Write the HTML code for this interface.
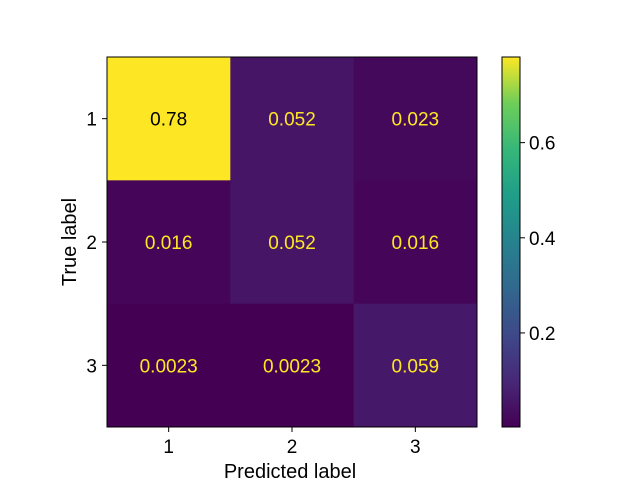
<!DOCTYPE html>
<html><head><meta charset="utf-8"><style>
body{margin:0;background:#fff;}
svg text{font-family:"Liberation Sans",sans-serif;}
</style></head><body>
<svg id="chart" width="640" height="480" xmlns="http://www.w3.org/2000/svg">
<defs>
<linearGradient id="vir" x1="0" y1="1" x2="0" y2="0">
<stop offset="0" stop-color="#440154"/><stop offset="0.125" stop-color="#482878"/>
<stop offset="0.25" stop-color="#3e4989"/><stop offset="0.375" stop-color="#31688e"/>
<stop offset="0.5" stop-color="#26828e"/><stop offset="0.625" stop-color="#1f9e89"/>
<stop offset="0.75" stop-color="#35b779"/><stop offset="0.875" stop-color="#6ece58"/>
<stop offset="1" stop-color="#fde725"/>
</linearGradient>
</defs>
<g id="cells"></g>
<rect x="107" y="57" width="370" height="370" fill="none" stroke="#000" stroke-width="1"/>
<g id="axes"></g>
<text x="290" y="478" text-anchor="middle" font-size="20">Predicted label</text>
<text transform="translate(76,242) rotate(-90)" text-anchor="middle" font-size="20">True label</text>
<rect x="502" y="57" width="18" height="370" fill="url(#vir)" stroke="#000" stroke-width="1"/>
<g id="cbticks"></g>
</svg>
<script>
const labels = ["1","2","3"];
const values = [[0.78,0.052,0.023],[0.016,0.052,0.016],[0.0023,0.0023,0.059]];
const valueText = [["0.78","0.052","0.023"],["0.016","0.052","0.016"],["0.0023","0.0023","0.059"]];
const cbTicks = [0.2,0.4,0.6];
const cbTickText = ["0.2","0.4","0.6"];

const NS="http://www.w3.org/2000/svg";
const x0=107,y0=57,size=370,n=labels.length,cs=size/n;
const flat=values.flat();const vmin=Math.min(...flat),vmax=Math.max(...flat);
const stops=["#440154","#482878","#3e4989","#31688e","#26828e","#1f9e89","#35b779","#6ece58","#fde725"];
function hex(h){return [1,3,5].map(i=>parseInt(h.substr(i,2),16));}
function vir(t){t=Math.max(0,Math.min(1,t));const p=t*(stops.length-1);const i=Math.min(Math.floor(p),stops.length-2);const f=p-i;const a=hex(stops[i]),b=hex(stops[i+1]);return "rgb("+a.map((v,k)=>Math.round(v+(b[k]-v)*f)).join(",")+")";}
function xs(j){return x0+j*cs;}
function ys(i){return y0+i*cs;}
function cy(v){return y0+size-(v-vmin)/(vmax-vmin)*size;}
function mk(tag,attrs,parent,txt){const e=document.createElementNS(NS,tag);for(const k in attrs)e.setAttribute(k,attrs[k]);if(txt!==undefined)e.textContent=txt;parent.appendChild(e);return e;}
const cells=document.getElementById("cells"),axes=document.getElementById("axes"),cb=document.getElementById("cbticks");
for(let i=0;i<n;i++)for(let j=0;j<n;j++){
 const t=(values[i][j]-vmin)/(vmax-vmin);
 const r=mk("rect",{x:xs(j),y:ys(i),width:cs+0.5,height:cs+0.5,fill:vir(t)},cells);
 
 
 const tx=mk("text",{x:xs(j)+cs/2,y:ys(i)+cs/2+7,"text-anchor":"middle","font-size":"19",fill:t>0.5?"#000":"#fde725"},cells,valueText[i][j]);
 
 
}
for(let k=0;k<n;k++){
 const c=x0+k*cs+cs/2;
 mk("line",{x1:c,x2:c,y1:427,y2:432,stroke:"#000"},axes);
 const tx=mk("text",{x:c,y:453,"text-anchor":"middle","font-size":"19"},axes,labels[k]);
 
 
 const r=y0+k*cs+cs/2;
 mk("line",{x1:102,x2:107,y1:r,y2:r,stroke:"#000"},axes);
 const ty=mk("text",{x:97,y:r+7,"text-anchor":"end","font-size":"19"},axes,labels[k]);
 
 
}
cbTicks.forEach((v,k)=>{
 const y=cy(v);
 mk("line",{x1:520,x2:525,y1:y,y2:y,stroke:"#000"},cb);
 const t=mk("text",{x:529,y:y+7,"font-size":"19"},cb,cbTickText[k]);
 
 
});
</script>
</body></html>
